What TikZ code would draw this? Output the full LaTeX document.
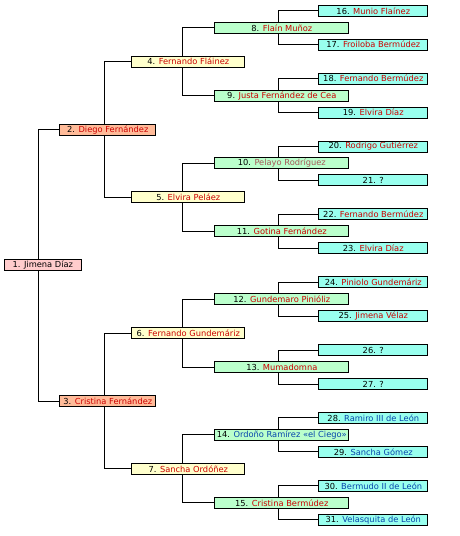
\documentclass[tikz,border=0pt]{standalone}
\usepackage{fontspec}
\setmainfont{DejaVu Sans}
\usetikzlibrary{backgrounds}
\definecolor{c0}{HTML}{FFCCCC}
\definecolor{c1}{HTML}{FFBB99}
\definecolor{c2}{HTML}{FFFFCC}
\definecolor{c3}{HTML}{BBFFCC}
\definecolor{c4}{HTML}{99FFEE}
\definecolor{redlink}{HTML}{CC0000}
\definecolor{visited}{HTML}{A55858}
\definecolor{bluelink}{HTML}{0645AD}
\newcommand{\Rd}[1]{\textcolor{redlink}{#1}}
\newcommand{\Vi}[1]{\textcolor{visited}{#1}}
\newcommand{\Bl}[1]{\textcolor{bluelink}{#1}}
\begin{document}
\begin{tikzpicture}[x=1pt,y=-1pt,
  box/.style={draw, line width=1pt, inner sep=0pt, minimum height=11pt, font=\fontsize{8.3}{9}\selectfont, anchor=center},
  g0/.style={box, fill=c0, minimum width=77pt},
  g1/.style={box, fill=c1, minimum width=96pt},
  g2/.style={box, fill=c2, minimum width=113pt},
  g3/.style={box, fill=c3, minimum width=134pt},
  g4/.style={box, fill=c4, minimum width=109pt},
  link/.style={line width=1pt}
]
\useasboundingbox (0,0) rectangle (460,536);
% generation 0
\node[g0] (n1) at (42.85,265.28) {1. Jimena Díaz};
% generation 1
\node[g1] (n2) at (107.8,129.56) {2. \Rd{Diego Fernández}};
\node[g1] (n3) at (107.8,401.0) {3. \Rd{Cristina Fernández}};
% generation 2
\node[g2] (n4) at (188.3,61.70) {4. \Rd{Fernando Fláinez}};
\node[g2] (n5) at (188.3,197.42) {5. \Rd{Elvira Peláez}};
\node[g2] (n6) at (188.3,333.14) {6. \Rd{Fernando Gundemáriz}};
\node[g2] (n7) at (188.3,468.86) {7. \Rd{Sancha Ordóñez}};
% generation 3
\node[g3] (n8) at (281.8,27.77) {8. \Rd{Flaín Muñoz}};
\node[g3] (n9) at (281.8,95.63) {9. \Rd{Justa Fernández de Cea}};
\node[g3] (n10) at (281.8,163.49) {10. \Vi{Pelayo Rodríguez}};
\node[g3] (n11) at (281.8,231.35) {11. \Rd{Gotina Fernández}};
\node[g3] (n12) at (281.8,299.21) {12. \Rd{Gundemaro Pinióliz}};
\node[g3] (n13) at (281.8,367.07) {13. \Rd{Mumadomna}};
\node[g3] (n14) at (281.8,434.93) {14. \Bl{Ordoño Ramírez «el Ciego»}};
\node[g3] (n15) at (281.8,502.79) {15. \Rd{Cristina Bermúdez}};
% generation 4
\node[g4] (n16) at (373.3,10.80) {16. \Rd{Munio Flaínez}};
\node[g4] (n17) at (373.3,44.73) {17. \Rd{Froiloba Bermúdez}};
\node[g4] (n18) at (373.3,78.66) {18. \Rd{Fernando Bermúdez}};
\node[g4] (n19) at (373.3,112.59) {19. \Rd{Elvira Díaz}};
\node[g4] (n20) at (373.3,146.52) {20. \Rd{Rodrigo Gutiérrez}};
\node[g4] (n21) at (373.3,180.45) {21. ?};
\node[g4] (n22) at (373.3,214.38) {22. \Rd{Fernando Bermúdez}};
\node[g4] (n23) at (373.3,248.31) {23. \Rd{Elvira Díaz}};
\node[g4] (n24) at (373.3,282.24) {24. \Rd{Piniolo Gundemáriz}};
\node[g4] (n25) at (373.3,316.17) {25. \Rd{Jimena Vélaz}};
\node[g4] (n26) at (373.3,350.10) {26. ?};
\node[g4] (n27) at (373.3,384.03) {27. ?};
\node[g4] (n28) at (373.3,417.96) {28. \Bl{Ramiro III de León}};
\node[g4] (n29) at (373.3,451.89) {29. \Bl{Sancha Gómez}};
\node[g4] (n30) at (373.3,485.82) {30. \Bl{Bermudo II de León}};
\node[g4] (n31) at (373.3,519.75) {31. \Bl{Velasquita de León}};
\begin{pgfonlayer}{background}
\fill[white] (0,0) rectangle (460,536);
\draw[link] (n2.west) -| ([xshift=-4.15pt]n1.center) |- (n3.west);
\draw[link] (n4.west) -| ([xshift=-3.5pt]n2.center) |- (n5.west);
\draw[link] (n6.west) -| ([xshift=-3.5pt]n3.center) |- (n7.west);
\foreach \c/\a/\b in {4/8/9,5/10/11,6/12/13,7/14/15}
  \draw[link] (n\a.west) -| ([xshift=-6pt]n\c.center) |- (n\b.west);
\foreach \c/\a/\b in {8/16/17,9/18/19,10/20/21,11/22/23,12/24/25,13/26/27,14/28/29,15/30/31}
  \draw[link] (n\a.west) -| ([xshift=-3.5pt]n\c.center) |- (n\b.west);
\end{pgfonlayer}
\end{tikzpicture}
\end{document}
